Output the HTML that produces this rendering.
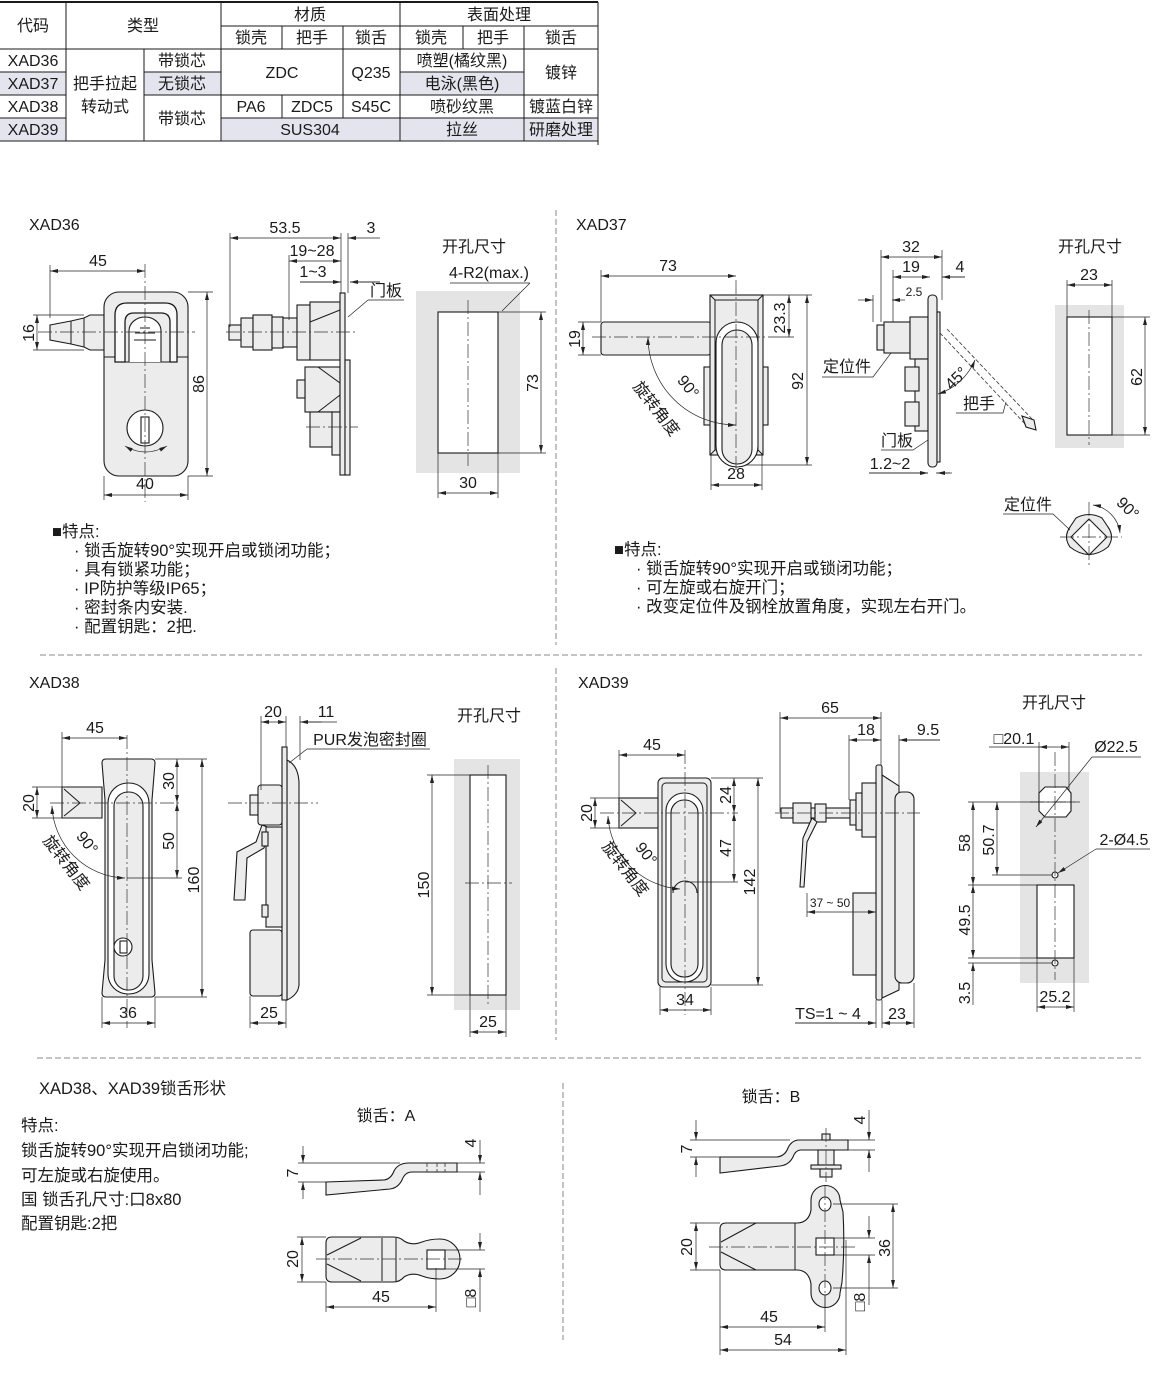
<!DOCTYPE html>
<html><head><meta charset="utf-8">
<style>
html,body{margin:0;padding:0;background:#fff}
svg{display:block}
text{font-family:"Liberation Sans","Noto Sans CJK SC",sans-serif;fill:#1a1a1a}
.d{font-size:16px}
.s{font-size:12px}
.t{font-size:16px}
.n{font-size:16.5px}
.L{stroke:#1a1a1a;stroke-width:1;fill:none}
.P{fill:#ececec;stroke:#1a1a1a;stroke-width:1.1}
.W{fill:#fff;stroke:#1a1a1a;stroke-width:1.1}
.G{fill:#e4e4e4;stroke:none}
.T{stroke:#222;stroke-width:.7;fill:none}
.D{stroke:#222;stroke-width:.7;fill:none;marker-start:url(#a);marker-end:url(#a)}
.E{stroke:#222;stroke-width:.7;fill:none;marker-end:url(#a)}
.C{stroke:#333;stroke-width:.7;fill:none;stroke-dasharray:14 3 2 3}
.H{stroke:#333;stroke-width:.8;fill:none;stroke-dasharray:4 2}
.K{stroke:#8a8a8a;stroke-width:1;fill:none;stroke-dasharray:6 3}
</style></head><body>
<svg width="1174" height="1379" viewBox="0 0 1174 1379" xmlns="http://www.w3.org/2000/svg">
<defs><marker id="a" viewBox="0 0 8 4" refX="8" refY="2" markerWidth="8" markerHeight="4" orient="auto-start-reverse" markerUnits="userSpaceOnUse"><path d="M0,0L8,2L0,4Z" fill="#222"/></marker></defs>

<!-- ================= TABLE ================= -->
<g>
<rect x="0" y="72" width="66" height="23" fill="#e4e4ee"/>
<rect x="144" y="72" width="77" height="23" fill="#e4e4ee"/>
<rect x="400" y="72" width="124" height="23" fill="#e4e4ee"/>
<rect x="0" y="118" width="66" height="23" fill="#e4e4ee"/>
<rect x="221" y="118" width="179" height="23" fill="#e4e4ee"/>
<rect x="400" y="118" width="124" height="23" fill="#e4e4ee"/>
<rect x="524" y="118" width="74" height="23" fill="#e4e4ee"/>
<path d="M0,2H598" stroke="#1a1a1a" stroke-width="2"/>
<path class="L" d="M221,26H598 M0,49H598 M0,72H66 M144,72H221 M400,72H524 M0,95H66 M144,95H598 M0,118H66 M221,118H598 M0,141H598 M66,2V141 M144,49V141 M221,2V141 M282,26V49 M282,95V118 M343,26V118 M400,2V141 M463,26V49 M524,26V141 M598,2V145"/>
<g class="t" text-anchor="middle">
<text x="33" y="31">代码</text><text x="143" y="31">类型</text>
<text x="310" y="20">材质</text><text x="499" y="20">表面处理</text>
<text x="251" y="43">锁壳</text><text x="312" y="43">把手</text><text x="371" y="43">锁舌</text>
<text x="431" y="43">锁壳</text><text x="493" y="43">把手</text><text x="561" y="43">锁舌</text>
<text x="33" y="66">XAD36</text><text x="33" y="89">XAD37</text><text x="33" y="112">XAD38</text><text x="33" y="135">XAD39</text>
<text x="105" y="89">把手拉起</text><text x="105" y="112">转动式</text>
<text x="182" y="66">带锁芯</text><text x="182" y="89">无锁芯</text><text x="182" y="124">带锁芯</text>
<text x="282" y="78">ZDC</text><text x="371" y="78">Q235</text>
<text x="462" y="66">喷塑(橘纹黑)</text><text x="462" y="89">电泳(黑色)</text><text x="561" y="78">镀锌</text>
<text x="251" y="112">PA6</text><text x="312" y="112">ZDC5</text><text x="371" y="112">S45C</text>
<text x="462" y="112">喷砂纹黑</text><text x="561" y="112">镀蓝白锌</text>
<text x="310" y="135">SUS304</text><text x="462" y="135">拉丝</text><text x="561" y="135">研磨处理</text>
</g>
</g>

<!-- ================= DIVIDERS ================= -->
<path class="K" d="M556,210V645 M556,668V1040 M40,655H1142 M37,1058H1142 M563,1083V1340"/>

<!-- ================= XAD36 ================= -->
<text class="d" x="29" y="230">XAD36</text>
<path class="P" d="M50,325 L71,321 L84,318 L90,315 H104 V350 H90 L84,347 L71,344 L50,340 Z"/>
<path class="L" d="M71,321V344 M84,318V347"/>
<rect class="P" x="104" y="292" width="84" height="184" rx="15"/>
<path class="L" d="M104,357H115 M177,357H188 M115,362H177"/>
<path d="M115,362V315Q115,303 127,303H165Q177,303 177,315V362H170V322Q170,313 161,313H134Q125,313 125,322V362Z" fill="#fafafa" stroke="#1a1a1a" stroke-width="1.3"/>
<path class="W" d="M129,362V331A16,14 0 0 1 161,331 V362" />
<path class="L" d="M140,328H150 M135,333H155 M134,340H156"/>
<circle class="W" cx="145" cy="428" r="18"/>
<rect class="W" x="141" y="417" width="8" height="26"/>
<path class="D" d="M125,446 Q145,458 167,446"/>
<path class="C" d="M38,332H195 M145,264V502"/>
<path class="T" d="M50,265V318 M33,315H84 M33,350H84 M188,292H213 M188,476H213 M104,476V500 M188,476V500"/>
<path class="D" d="M50,271H145"/>
<path class="D" d="M37,315V350"/>
<path class="D" d="M207,292V476"/>
<path class="D" d="M104,495H188"/>
<g class="d" text-anchor="middle">
<text x="98" y="266">45</text><text x="145" y="489">40</text>
<text transform="translate(34,333) rotate(-90)">16</text>
<text transform="translate(204,384) rotate(-90)">86</text>
</g>
<!-- side -->
<rect class="P" x="229" y="325" width="12" height="15"/>
<rect class="P" x="241" y="318" width="12" height="29"/>
<rect class="P" x="253" y="315" width="19" height="35"/>
<rect class="P" x="272" y="317" width="11" height="31"/>
<rect class="P" x="283" y="318" width="14" height="29"/>
<rect class="P" x="297" y="305" width="13" height="55"/>
<rect class="P" x="310" y="302" width="30" height="58"/>
<path class="L" d="M310,322L340,310"/>
<rect class="P" x="305" y="367" width="35" height="45"/>
<path class="L" d="M318,367L340,383 M340,395L318,412"/>
<rect class="P" x="297" y="380" width="8" height="18"/>
<rect class="P" x="310" y="412" width="23" height="35"/>
<rect class="P" x="332" y="412" width="8" height="43"/>
<rect class="P" x="340" y="293" width="5" height="182"/>
<rect class="P" x="345" y="360" width="5" height="115"/>
<path class="L" d="M345,293V360"/>
<path class="C" d="M226,332H358 M306,427H358"/>
<path class="T" d="M230,233V327 M289,255V320 M341,233V293 M348,233V293 M300,282H341 M350,282H380"/>
<path class="D" d="M230,238H341"/>
<path class="E" d="M380,238H348"/>
<path class="D" d="M289,261H341"/>
<path class="E" d="M300,282H341"/>
<path class="E" d="M380,282H350"/>
<path class="T" d="M368,300H404 M368,300L348,317"/>
<g class="d" text-anchor="middle">
<text x="285" y="233">53.5</text><text x="371" y="233">3</text>
<text x="312" y="256">19~28</text><text x="313" y="277">1~3</text>
<text x="386" y="296">门板</text>
</g>
<!-- cutout -->
<rect class="G" x="416" y="291" width="104" height="182"/>
<rect class="W" x="438" y="312" width="60" height="141"/>
<path class="C" d="M468,300V466"/>
<path class="T" d="M498,312H546 M498,453H546 M438,453V498 M498,453V498 M450,283H530 M530,283L502,311"/>
<path class="D" d="M541,312V453"/>
<path class="D" d="M438,493H498"/>
<g class="d" text-anchor="middle">
<text x="474" y="252">开孔尺寸</text>
<text x="489" y="278">4-R2(max.)</text>
<text x="468" y="488">30</text>
<text transform="translate(538,383) rotate(-90)">73</text>
</g>
<!-- notes -->
<g class="n">
<text x="52" y="537">■特点:</text>
<text x="74" y="556">· 锁舌旋转90°实现开启或锁闭功能；</text>
<text x="74" y="575">· 具有锁紧功能；</text>
<text x="74" y="594">· IP防护等级IP65；</text>
<text x="74" y="613">· 密封条内安装.</text>
<text x="74" y="632">· 配置钥匙：2把.</text>
</g>

<!-- ================= XAD37 ================= -->
<text class="d" x="576" y="230">XAD37</text>
<rect class="P" x="601" y="322" width="110" height="33" rx="3"/>
<rect class="P" x="704" y="367" width="7" height="58"/>
<rect class="P" x="762" y="367" width="6" height="58"/>
<rect class="P" x="710" y="295" width="53" height="160"/>
<path class="L" d="M715,300H758V450H715Z M710,295L715,300 M763,295L758,300 M710,455L715,450 M763,455L758,450"/>
<rect class="W" x="716" y="322" width="42" height="145" rx="21"/>
<rect class="P" x="722" y="330" width="30" height="134" rx="15"/>
<path class="C" d="M736,280V472 M592,337H768"/>
<path class="D" d="M648,337A88,88 0 0 0 736,425"/>
<path class="T" d="M601,270V322 M578,322H601 M578,355H601 M763,295H812 M768,337H794 M745,465H812 M711,455V490 M762,455V490"/>
<path class="D" d="M601,276H736"/>
<path class="D" d="M583,322V355"/>
<path class="D" d="M789,295V337"/>
<path class="D" d="M807,295V465"/>
<path class="D" d="M711,485H762"/>
<g class="d" text-anchor="middle">
<text x="668" y="271">73</text><text x="736" y="479">28</text>
<text transform="translate(580,339) rotate(-90)">19</text>
<text transform="translate(785,318) rotate(-90)">23.3</text>
<text transform="translate(803,381) rotate(-90)">92</text>
<text transform="translate(684,390) rotate(52)">90°</text>
<text transform="translate(652,412) rotate(52)">旋转角度</text>
</g>
<!-- side -->
<rect class="P" x="877" y="325" width="7" height="25"/>
<rect class="P" x="884" y="322" width="26" height="31"/>
<rect class="P" x="910" y="317" width="18" height="42"/>
<rect class="P" x="915" y="359" width="13" height="72"/>
<rect class="P" x="905" y="367" width="14" height="24"/>
<rect class="P" x="905" y="402" width="14" height="24"/>
<rect class="P" x="928" y="295" width="9" height="172" rx="4"/>
<rect class="P" x="937" y="312" width="3" height="150"/>
<path class="H" d="M940,333L1026,425 M947,329L1033,420 M1026,425L1033,420"/>
<path class="P" d="M1022,416L1034,420L1036,430L1026,427Z"/>
<path class="D" d="M938,394A60,60 0 0 0 975,360"/>
<path class="T" d="M881,250V322 M942,250V300 M893,270V322 M965,277H942 M873,295V322 M822,377H873L891,353 M956,413H1003L1006,402 M881,450H913L928,440 M869,473H928 M936,473H950"/>
<path class="D" d="M881,257H942"/>
<path class="D" d="M893,277H930"/>
<path class="E" d="M965,277H942"/>
<path class="E" d="M858,300H873"/>
<path class="E" d="M905,300H892"/>
<path class="E" d="M869,473H928"/>
<path class="E" d="M952,473H937"/>
<g class="d" text-anchor="middle">
<text x="911" y="252">32</text><text x="911" y="272">19</text><text x="960" y="272">4</text>
<text class="s" x="914" y="296">2.5</text>
<text x="847" y="372">定位件</text>
<text x="979" y="409">把手</text>
<text x="897" y="446">门板</text>
<text x="890" y="469">1.2~2</text>
<text transform="translate(960,382) rotate(-45)">45°</text>
</g>
<!-- cutout -->
<rect class="G" x="1055" y="305" width="69" height="143"/>
<rect class="W" x="1067" y="317" width="45" height="118"/>
<path class="C" d="M1089,310V445"/>
<path class="T" d="M1067,280V317 M1112,280V317 M1112,317H1150 M1112,435H1150"/>
<path class="D" d="M1067,285H1112"/>
<path class="D" d="M1145,317V435"/>
<g class="d" text-anchor="middle">
<text x="1090" y="252">开孔尺寸</text>
<text x="1089" y="280">23</text>
<text transform="translate(1142,377) rotate(-90)">62</text>
</g>
<!-- locator -->
<path class="P" d="M1070,527 L1076,518 Q1089,511 1102,518 L1108,527 Q1115,537 1108,547 Q1089,562 1070,547 Q1063,537 1070,527Z" fill="#e4e4e4"/>
<path class="W" d="M1089,519L1107,537L1089,555L1071,537Z"/>
<path class="C" d="M1060,537H1122 M1089,502V565"/>
<path class="D" d="M1093,505A32,32 0 0 1 1120,533"/>
<path class="T" d="M1003,514H1053L1070,530"/>
<text class="d" x="1028" y="510" text-anchor="middle">定位件</text>
<text class="d" transform="translate(1124,512) rotate(45)" text-anchor="middle">90°</text>
<g class="n">
<text x="614" y="555">■特点:</text>
<text x="636" y="574">· 锁舌旋转90°实现开启或锁闭功能；</text>
<text x="636" y="593">· 可左旋或右旋开门；</text>
<text x="636" y="612">· 改变定位件及钢栓放置角度，实现左右开门。</text>
</g>

<!-- ================= XAD38 ================= -->
<text class="d" x="29" y="688">XAD38</text>
<path class="P" d="M62,787H102V818H62Z"/>
<path class="L" d="M64,789L80,803L64,816"/>
<path class="P" d="M106,759H151Q155,759 155,763L152,800V960L155,993Q155,997 151,997H106Q102,997 102,993L105,960V800L102,763Q102,759 106,759Z"/>
<rect class="W" x="108" y="783" width="41" height="211" rx="20"/>
<rect class="P" x="114" y="792" width="29" height="198" rx="14"/>
<circle class="W" cx="123" cy="947" r="9"/>
<rect class="W" x="120" y="941" width="7" height="12"/>
<path class="C" d="M127,735V1028 M50,803H182"/>
<path class="T" d="M127,878H182 M62,732V787 M32,787H62 M32,818H62 M155,759H207 M155,997H207 M102,997V1028 M155,997V1028"/>
<path class="D" d="M62,738H127"/>
<path class="D" d="M37,787V818"/>
<path class="D" d="M177,759V803"/>
<path class="D" d="M177,803V878"/>
<path class="D" d="M202,759V997"/>
<path class="D" d="M52,806A75,75 0 0 0 125,878"/>
<path class="D" d="M102,1023H155"/>
<g class="d" text-anchor="middle">
<text x="95" y="733">45</text><text x="128" y="1018">36</text>
<text transform="translate(34,803) rotate(-90)">20</text>
<text transform="translate(174,781) rotate(-90)">30</text>
<text transform="translate(174,841) rotate(-90)">50</text>
<text transform="translate(199,880) rotate(-90)">160</text>
<text transform="translate(83,846) rotate(52)">90°</text>
<text transform="translate(62,866) rotate(52)">旋转角度</text>
</g>
<!-- side -->
<path class="P" d="M287,760Q298,765 299,782V985Q298,995 287,1000Z"/>
<rect class="P" x="282" y="747" width="5" height="253"/>
<rect class="P" x="250" y="795" width="8" height="20"/>
<rect class="P" x="258" y="785" width="24" height="40" rx="3"/>
<path class="P" d="M262,825L256,842L237,852L234,900L245,900L247,858L264,848L270,828Z"/>
<rect class="P" x="266" y="827" width="16" height="100"/>
<rect class="P" x="262" y="832" width="6" height="14"/>
<rect class="P" x="262" y="905" width="6" height="12"/>
<rect class="P" x="250" y="930" width="32" height="66" rx="3"/>
<path class="C" d="M228,803H318"/>
<path class="T" d="M261,716V790 M286,716V747 M300,716V760 M300,722H337 M307,749H430 M307,749L289,763 M250,996V1028 M286,1000V1028"/>
<path class="D" d="M261,722H286"/>
<path class="E" d="M322,722H300"/>
<path class="D" d="M250,1023H286"/>
<g class="d" text-anchor="middle">
<text x="273" y="717">20</text><text x="326" y="717">11</text>
<text x="370" y="745">PUR发泡密封圈</text>
<text x="269" y="1018">25</text>
</g>
<!-- cutout -->
<rect class="G" x="454" y="759" width="66" height="251"/>
<rect class="W" x="470" y="775" width="36" height="220"/>
<path class="C" d="M488,765V1005 M465,883H512"/>
<path class="T" d="M427,775H470 M427,995H470 M470,995V1037 M506,995V1037"/>
<path class="D" d="M432,775V995"/>
<path class="D" d="M470,1032H506"/>
<g class="d" text-anchor="middle">
<text x="489" y="721">开孔尺寸</text>
<text x="488" y="1027">25</text>
<text transform="translate(429,885) rotate(-90)">150</text>
</g>

<!-- ================= XAD39 ================= -->
<text class="d" x="578" y="688">XAD39</text>
<rect class="P" x="619" y="798" width="41" height="30"/>
<path class="L" d="M621,800L636,813L621,826"/>
<rect class="P" x="658" y="778" width="53" height="209" rx="5"/>
<rect class="L" x="662" y="783" width="45" height="199" rx="4"/>
<rect class="W" x="666" y="793" width="37" height="189" rx="18"/>
<rect class="P" x="671" y="800" width="27" height="177" rx="13"/>
<path class="L" d="M673,893A12,12 0 0 1 697,893"/>
<path class="C" d="M685,750V1015 M600,813H738"/>
<path class="T" d="M685,882H738 M619,750V798 M590,798H619 M590,828H619 M711,778H763 M711,985H763 M660,987V1015 M711,987V1015"/>
<path class="D" d="M619,755H685"/>
<path class="D" d="M595,798V828"/>
<path class="D" d="M734,778V813"/>
<path class="D" d="M734,813V882"/>
<path class="D" d="M758,778V985"/>
<path class="D" d="M608,816A77,77 0 0 0 680,889"/>
<path class="D" d="M660,1010H711"/>
<g class="d" text-anchor="middle">
<text x="652" y="750">45</text><text x="685" y="1005">34</text>
<text transform="translate(592,813) rotate(-90)">20</text>
<text transform="translate(731,795) rotate(-90)">24</text>
<text transform="translate(731,848) rotate(-90)">47</text>
<text transform="translate(755,882) rotate(-90)">142</text>
<text transform="translate(642,857) rotate(52)">90°</text>
<text transform="translate(621,872) rotate(52)">旋转角度</text>
</g>
<!-- side -->
<path class="P" d="M882,775L899,786V990L882,998Z"/>
<rect class="P" x="895" y="792" width="19" height="191" rx="7"/>
<rect class="P" x="876" y="765" width="6" height="235" rx="2"/>
<rect class="P" x="781" y="808" width="69" height="10"/>
<rect class="P" x="793" y="803" width="18" height="20"/>
<rect class="P" x="815" y="804" width="11" height="18"/>
<rect class="P" x="850" y="800" width="6" height="25"/>
<rect class="P" x="856" y="793" width="6" height="37"/>
<rect class="P" x="862" y="783" width="14" height="54"/>
<path class="P" d="M812,818L803,838L800,887L804,887L807,842L817,822Z"/>
<rect class="P" x="853" y="893" width="23" height="82"/>
<path class="C" d="M775,813H920"/>
<path class="T" d="M780,712V812 M881,712V765 M849,735V800 M899,735V790 M940,740H899 M807,893V917 M876,1000V1028 M882,1000V1028 M914,983V1028 M795,1023H876"/>
<path class="D" d="M780,718H881"/>
<path class="D" d="M849,740H881"/>
<path class="E" d="M940,740H899"/>
<path class="D" d="M807,912H876"/>
<path class="E" d="M795,1023H876"/>
<path class="D" d="M882,1023H914"/>
<g class="d" text-anchor="middle">
<text x="830" y="713">65</text><text x="866" y="735">18</text><text x="928" y="735">9.5</text>
<text class="s" x="830" y="907">37 ~ 50</text>
<text x="828" y="1019">TS=1 ~ 4</text><text x="897" y="1019">23</text>
</g>
<!-- cutout -->
<rect class="G" x="1020" y="772" width="69" height="211"/>
<path class="W" d="M1045,787H1066L1071,793V811L1066,817H1045L1039,811V793Z"/>
<rect class="W" x="1037" y="885" width="37" height="73"/>
<circle class="W" cx="1055" cy="875" r="3"/>
<circle class="W" cx="1055" cy="963" r="3"/>
<path class="C" d="M1055,752V980 M1030,802H1080"/>
<path class="T" d="M1039,742V800 M1069,742V790 M989,747H1039 M968,802H1075 M992,875H1052 M968,885H1037 M968,958H1037 M968,963H1052 M1037,958V1012 M1074,958V1012 M1092,757H1141 M1096,849H1150"/>
<path class="D" d="M1039,747H1069"/>
<path class="E" d="M1092,757L1036,827"/>
<path class="E" d="M1096,849L1058,873"/>
<path class="D" d="M973,802V885"/>
<path class="D" d="M997,802V875"/>
<path class="D" d="M973,885V958"/>
<path class="E" d="M973,1005V963"/>
<path class="D" d="M1037,1007H1074"/>
<g class="d" text-anchor="middle">
<text x="1054" y="708">开孔尺寸</text>
<text x="1014" y="744">□20.1</text>
<text x="1116" y="752">Ø22.5</text>
<text x="1124" y="845">2-Ø4.5</text>
<text x="1055" y="1002">25.2</text>
<text transform="translate(970,843) rotate(-90)">58</text>
<text transform="translate(994,840) rotate(-90)">50.7</text>
<text transform="translate(970,920) rotate(-90)">49.5</text>
<text transform="translate(970,993) rotate(-90)">3.5</text>
</g>

<!-- ================= BOTTOM ================= -->
<text class="n" x="39" y="1094">XAD38、XAD39锁舌形状</text>
<g class="n">
<text x="21" y="1131">特点:</text>
<text x="21" y="1156">锁舌旋转90°实现开启锁闭功能;</text>
<text x="21" y="1181">可左旋或右旋使用。</text>
<text x="21" y="1205">国 锁舌孔尺寸:口8x80</text>
<text x="21" y="1229">配置钥匙:2把</text>
</g>
<!-- tongue A -->
<text class="d" x="386" y="1121" text-anchor="middle">锁舌：A</text>
<path class="P" d="M326,1182L384,1180Q391,1179 394,1171Q398,1163 409,1163H457V1172H412Q405,1172 402,1180Q398,1188 390,1189L326,1195Z"/>
<path class="H" d="M427,1163V1172 M437,1163V1172 M445,1163V1172"/>
<path class="T" d="M298,1163H400 M298,1182H326 M457,1163H485 M457,1172H485"/>
<path class="E" d="M303,1146V1163"/>
<path class="E" d="M303,1199V1182"/>
<path class="E" d="M480,1140V1163"/>
<path class="E" d="M480,1195V1172"/>
<path class="P" d="M332,1237H393Q400,1237 404,1241Q412,1246 422,1242Q430,1239 440,1239A20,20 0 0 1 440,1279Q430,1279 422,1276Q412,1272 404,1277Q400,1282 393,1282H332Q326,1282 326,1276V1243Q326,1237 332,1237Z"/>
<path class="L" d="M361,1238L327,1255 M327,1264L361,1281 M382,1238V1281 M396,1238V1281"/>
<rect class="W" x="427" y="1250" width="18" height="19"/>
<path class="C" d="M316,1259H465"/>
<path class="T" d="M297,1237H326 M297,1282H326 M326,1282V1312 M436,1268V1312 M445,1250H485 M445,1269H485"/>
<path class="D" d="M302,1237V1282"/>
<path class="D" d="M326,1307H436"/>
<path class="E" d="M480,1233V1250"/>
<path class="E" d="M480,1312V1269"/>
<g class="d" text-anchor="middle">
<text transform="translate(298,1173) rotate(-90)">7</text>
<text transform="translate(476,1143) rotate(-90)">4</text>
<text transform="translate(298,1259) rotate(-90)">20</text>
<text x="381" y="1302">45</text>
<text transform="translate(476,1298) rotate(-90)">□8</text>
</g>
<!-- tongue B -->
<text class="d" x="771" y="1102" text-anchor="middle">锁舌：B</text>
<path class="P" d="M720,1157H777Q785,1156 788,1148Q791,1141 798,1140H848V1150H800Q795,1151 793,1157Q789,1165 780,1166L720,1173Z"/>
<rect class="P" x="822" y="1134" width="8" height="6"/>
<rect class="P" x="818" y="1150" width="16" height="15"/>
<rect class="P" x="811" y="1165" width="30" height="4"/>
<rect class="P" x="820" y="1169" width="12" height="8"/>
<path class="C" d="M826,1128V1182"/>
<path class="T" d="M690,1140H790 M690,1157H720 M848,1140H875 M848,1150H875"/>
<path class="E" d="M696,1120V1140"/>
<path class="E" d="M696,1177V1157"/>
<path class="E" d="M869,1110V1140"/>
<path class="E" d="M869,1172V1150"/>
<path class="P" d="M726,1223H798Q809,1222 811,1210V1200A14.5,14.5 0 0 1 840,1200L843,1212Q845,1247 842,1282L840,1293A14.5,14.5 0 0 1 811,1293V1284Q809,1271 798,1270H726Q720,1270 720,1264V1229Q720,1223 726,1223Z"/>
<path class="L" d="M756,1223L721,1242 M721,1252L756,1270 M795,1223V1270"/>
<ellipse class="W" cx="825" cy="1204" rx="6" ry="7"/>
<ellipse class="W" cx="825" cy="1288" rx="6" ry="7"/>
<rect class="W" x="816" y="1238" width="18" height="17"/>
<path class="C" d="M709,1247H856 M825,1186V1308"/>
<path class="T" d="M690,1223H720 M690,1270H720 M833,1204H898 M833,1288H898 M834,1238H875 M834,1255H875 M720,1270V1355 M846,1240V1355 M825,1295V1332"/>
<path class="D" d="M696,1223V1270"/>
<path class="D" d="M893,1204V1288"/>
<path class="E" d="M869,1216V1238"/>
<path class="E" d="M869,1305V1255"/>
<path class="D" d="M720,1327H825"/>
<path class="D" d="M720,1350H846"/>
<g class="d" text-anchor="middle">
<text transform="translate(692,1149) rotate(-90)">7</text>
<text transform="translate(865,1120) rotate(-90)">4</text>
<text transform="translate(692,1247) rotate(-90)">20</text>
<text transform="translate(890,1248) rotate(-90)">36</text>
<text transform="translate(865,1302) rotate(-90)">□8</text>
<text x="769" y="1322">45</text>
<text x="783" y="1345">54</text>
</g>
</svg>
</body></html>
